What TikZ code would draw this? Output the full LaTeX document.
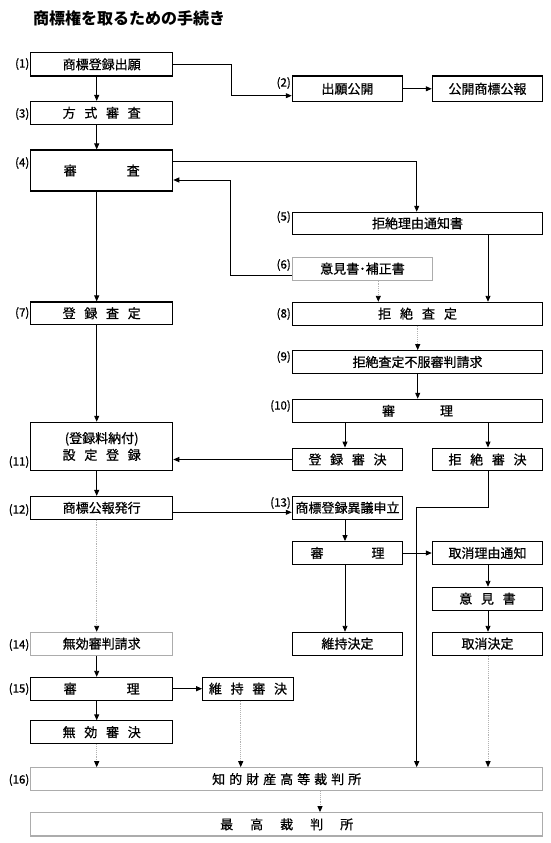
\documentclass[tikz,border=0pt]{standalone}
\usepackage{fontspec}
\setmainfont{Noto Sans CJK JP}
\newfontfamily\medfont{Noto Sans CJK JP}[FakeBold=0.7]
\usetikzlibrary{arrows.meta}
\newcommand{\sg}[1]{\hspace{#1pt}}
\begin{document}
\begin{tikzpicture}[x=1pt,y=-1pt,
  box/.style={draw=black, line width=1.1pt, inner sep=0pt, align=center,
    font=\medfont\fontsize{13}{16.7}\selectfont, minimum height=22.7pt},
  gbox/.style={box, draw=gray!65},
  lbox/.style={box, minimum width=142pt},
  rbox/.style={box, minimum width=110.4pt},
  wbox/.style={box, minimum width=250.4pt},
  lab/.style={font=\medfont\fontsize{11.5}{11.5}\selectfont, anchor=east, inner sep=0pt},
  arr/.style={-{Triangle[length=6pt,width=5pt,black]}, line width=0.9pt},
  garr/.style={arr, draw=gray!60, densely dotted}]
\path[use as bounding box] (0,0) rectangle (550,843);
\node[anchor=west, inner sep=0pt, font=\fontsize{16}{16}\selectfont\bfseries] (title) at (33,18) {商標権を取るための手続き};

% left column
\node[lbox, minimum height=23.3pt] (b1) at (101.7,64.3) {商標登録出願};
\node[lbox] (b3) at (101.7,112.8) {方\sg{8.7}式\sg{8.7}審\sg{8.7}査};
\node[lbox, minimum height=41pt] (b4) at (101.7,170.5) {審\sg{50}査};
\node[lbox] (b7) at (101.7,313.3) {登\sg{8.7}録\sg{8.7}査\sg{8.7}定};
\node[lbox, minimum height=48.4pt] (b11) at (101.7,446.5) {(登録料納付)\\設\sg{8.7}定\sg{8.7}登\sg{8.7}録};
\node[lbox] (b12) at (101.7,507.8) {商標公報発行};
\node[lbox, gbox] (b14) at (101.7,643.7) {無効審判請求};
\node[lbox] (b15) at (101.7,688.7) {審\sg{50}理};
\node[box, minimum width=90.6pt] (b15b) at (248,688.7) {維\sg{8.7}持\sg{8.7}審\sg{8.7}決};
\node[lbox] (b15c) at (101.7,732.2) {無\sg{8.7}効\sg{8.7}審\sg{8.7}決};
\node[gbox, minimum width=512pt] (b16) at (286.7,779.1) {知\sg{4}的\sg{4}財\sg{4}産\sg{4}高\sg{4}等\sg{4}裁\sg{4}判\sg{4}所};
\node[gbox, minimum width=512pt, minimum height=23.3pt] (b17) at (286.7,824.3) {最\sg{17}高\sg{17}裁\sg{17}判\sg{17}所};

% right column
\node[rbox, minimum height=25.7pt] (b2) at (347.5,88.8) {出願公開};
\node[rbox, minimum height=25.7pt] (pub) at (487.5,88.8) {公開商標公報};
\node[wbox, minimum height=22pt] (b5) at (417.5,223.3) {拒絶理由通知書};
\node[gbox, minimum width=140.4pt] (b6) at (362.5,268.7) {意見書･補正書};
\node[wbox] (b8) at (417.5,313.7) {拒\sg{9}絶\sg{9}査\sg{9}定};
\node[wbox] (b9) at (417.5,362) {拒絶査定不服審判請求};
\node[wbox, minimum height=23pt] (b10) at (417.5,410.8) {審\sg{45}理};
\node[rbox] (b10a) at (347.5,459.5) {登\sg{8.7}録\sg{8.7}審\sg{8.7}決};
\node[rbox] (b10b) at (487.5,459.5) {拒\sg{8.7}絶\sg{8.7}審\sg{8.7}決};
\node[rbox] (b13) at (347.5,507.8) {商標登録異議申立};
\node[rbox] (b13a) at (347.5,553) {審\sg{48}理};
\node[rbox] (b13b) at (487.5,553) {取消理由通知};
\node[rbox] (b13c) at (487.5,598.7) {意\sg{8.7}見\sg{8.7}書};
\node[rbox] (b13d) at (347.5,643.7) {維持決定};
\node[rbox] (b13e) at (487.5,643.7) {取消決定};

% labels
\node[lab] (l1) at (29.5,64) {(1)};
\node[lab] (l2) at (291,83) {(2)};
\node[lab] (l3) at (29.5,114) {(3)};
\node[lab] (l4) at (29.5,163) {(4)};
\node[lab] (l5) at (291,217) {(5)};
\node[lab] (l6) at (291,265) {(6)};
\node[lab] (l7) at (29.5,313) {(7)};
\node[lab] (l8) at (291,314) {(8)};
\node[lab] (l9) at (291,357) {(9)};
\node[lab] (l10) at (291,406) {(10)};
\node[lab] (l11) at (29.5,462) {(11)};
\node[lab] (l12) at (29.5,510) {(12)};
\node[lab] (l13) at (291,503) {(13)};
\node[lab] (l14) at (29.5,645) {(14)};
\node[lab] (l15) at (29.5,689) {(15)};
\node[lab] (l16) at (29.5,780) {(16)};

% helper coordinates
\coordinate (LA) at (96.7,0);
\coordinate (RA) at (345,0);
\coordinate (RB) at (488,0);
\coordinate (RN) at (417.7,0);
\coordinate (MX) at (240.7,0);
\coordinate (SX) at (320,0);
\coordinate (SX6) at (378.3,0);
\coordinate (J1) at (231.7,95.7);
\coordinate (J2) at (416.7,161.7);
\coordinate (J3a) at (230,275);
\coordinate (J3) at (230,180);
\coordinate (J4) at (416.7,507.3);
\coordinate (J5) at (0,512.3);

% left connectors
\draw[arr] (b1.south -| LA) -- (b3.north -| LA);
\draw[arr] (b3.south -| LA) -- (b4.north -| LA);
\draw[arr] (b4.south -| LA) -- (b7.north -| LA);
\draw[arr] (b7.south -| LA) -- (b11.north -| LA);
\draw[arr] (b11.south -| LA) -- (b12.north -| LA);
\draw[garr] (b12.south -| LA) -- (b14.north -| LA);
\draw[arr] (b14.south -| LA) -- (b15.north -| LA);
\draw[arr] (b15.south -| LA) -- (b15c.north -| LA);
\draw[garr] (b15c.south -| LA) -- (b16.north -| LA);
\draw[arr] (b15.east) -- (b15b.west);
\draw[garr] (b15b.south -| MX) -- (b16.north -| MX);
\draw[garr] (b16.south -| SX) -- (b17.north -| SX);

% right connectors
\draw[arr] (b1.east) -| (J1) -- (J1 -| b2.west);
\draw[arr] (b2.east) -- (pub.west);
\draw[arr] (J2 -| b4.east) -| (b5.north -| J2);
\draw[arr] (J3a -| b6.west) -- (J3a) -- (J3) -- (J3 -| b4.east);
\draw[garr] (b6.south -| SX6) -- (b8.north -| SX6);
\draw[arr] (b5.south -| RB) -- (b8.north -| RB);
\draw[garr] (b8.south -| RN) -- (b9.north -| RN);
\draw[arr] (b9.south -| RN) -- (b10.north -| RN);
\draw[arr] (b10.south -| RA) -- (b10a.north -| RA);
\draw[arr] (b10.south -| RB) -- (b10b.north -| RB);
\draw[arr] (b10a.west) -- (b10a.west -| b11.east);
\draw[arr] (b10b.south -| RB) |- (J4) -- (b16.north -| J4);
\draw[arr] (J5 -| b12.east) -- (J5 -| b13.west);
\draw[arr] (b13.south -| RA) -- (b13a.north -| RA);
\draw[arr] (b13a.east) -- (b13b.west);
\draw[arr] (b13b.south -| RB) -- (b13c.north -| RB);
\draw[arr] (b13c.south -| RB) -- (b13e.north -| RB);
\draw[arr] (b13a.south -| RA) -- (b13d.north -| RA);
\draw[garr] (b13e.south -| RB) -- (b16.north -| RB);
\end{tikzpicture}
\end{document}
